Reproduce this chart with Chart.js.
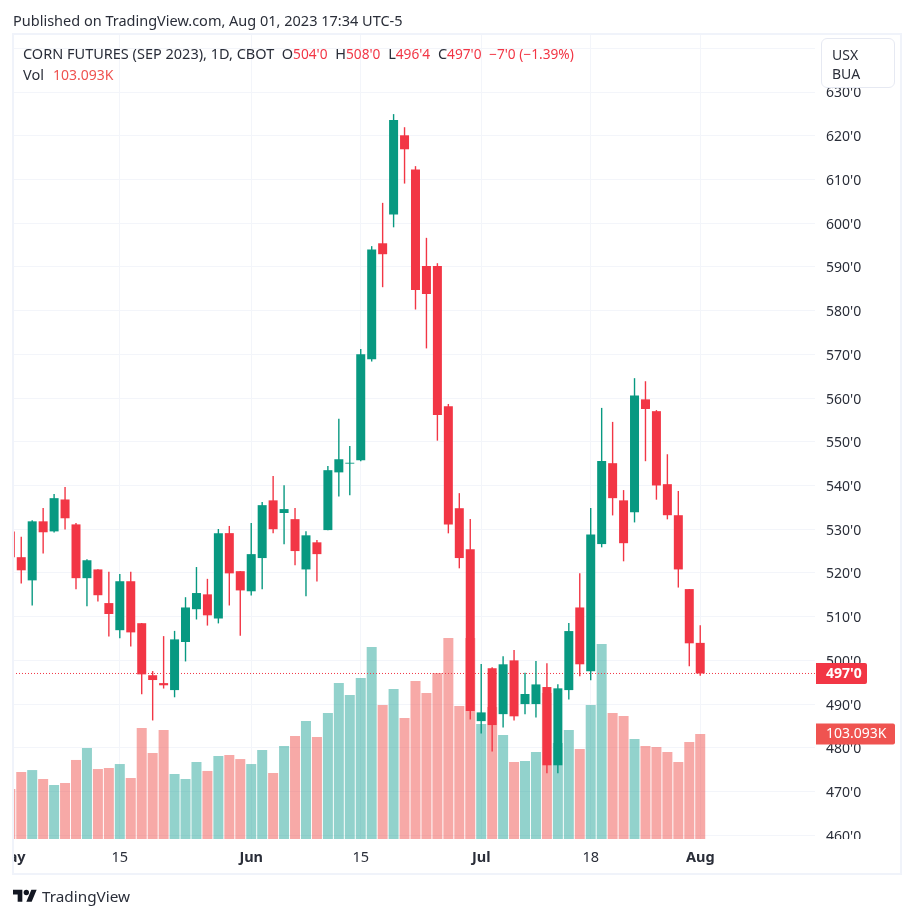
<!DOCTYPE html>
<html>
<head>
<meta charset="utf-8">
<title>CORN FUTURES (SEP 2023)</title>
<script src="https://cdn.jsdelivr.net/npm/chart.js@4"></script>
<style>
    html, body { margin: 0; padding: 0; background: #fff; }
    body { width: 914px; height: 918px; position: relative; overflow: hidden; font-family: "Noto Sans", sans-serif; color: #2a2e39; }
    canvas { position: absolute; left: 0; top: 0; }
    .abs { position: absolute; white-space: pre; }
    .red { color: #f23645; font-size: 13.7px; }
    .volred { color: #ef5350; font-size: 14px; margin-left: 1.5px; }
    .gap { margin-left: 4px; }
</style>
</head>
<body>
<canvas id="chart" width="914" height="918"></canvas>

<div class="abs" style="left:0;top:33px;width:12px;height:842px;background:#fff"></div>
<div class="abs" style="left:816px;top:839px;width:84px;height:34px;background:#fff"></div>
<div class="abs" style="left:12px;top:33px;width:886px;height:838px;border:2px solid #f0f3fa"></div>

<div class="abs" style="left:13px;top:10px;font-size:14.5px;line-height:20px">Published on TradingView.com, Aug 01, 2023 17:34 UTC-5</div>
<div class="abs" style="left:23px;top:43px;font-size:14.5px;line-height:20px">CORN FUTURES (SEP 2023), 1D, CBOT  O<span class="red">504'0</span><span class="gap"> H</span><span class="red">508'0</span><span class="gap"> L</span><span class="red">496'4</span><span class="gap"> C</span><span class="red">497'0</span><span class="gap red"> −7'0 (−1.39%)</span></div>
<div class="abs" style="left:23px;top:64px;font-size:14.5px;line-height:20px">Vol  <span class="volred">103.093K</span></div>

<div class="abs" style="left:821px;top:38px;width:72px;height:48px;background:#fff;border:1px solid #e6e9f2;border-radius:6px"></div>
<div class="abs" style="left:832px;top:45px;font-size:14px;line-height:19px">USX
BUA</div>

<svg class="abs" style="left:13px;top:887px" width="24" height="19" viewBox="0 0 36 28" fill="#131722">
    <path d="M14 22H7V11H0V4h14v18zM28 22h-8l7.5-18h8L28 22z"/>
    <circle cx="20" cy="8" r="4"/>
</svg>
<div class="abs" style="left:42px;top:885px;font-size:15.3px;line-height:22px">TradingView</div>

<script>
// daily OHLC, oldest first (2 May .. 1 Aug 2023)
const dayOpen = [
    529.5, 523.6, 518.3, 531.8, 529.5, 536.8, 531.1, 518.8, 520.8, 513.1, 506.9, 518.1, 508.5, 496.6, 494.8, 493.2,
    504.2, 511.7, 515.1, 509.6, 529.1, 520.4, 515.8, 523.4, 536.6, 533.7, 532.3, 520.8, 527.0, 529.8, 543.0, 545.0,
    545.8, 568.9, 595.4, 602.0, 620.1, 612.3, 590.2, 590.2, 558.1, 534.8, 525.4, 486.1, 498.2, 487.7, 500.0, 490.0,
    490.0, 493.9, 476.0, 493.2, 512.1, 497.5, 526.6, 545.1, 536.6, 533.9, 559.7, 557.0, 540.3, 533.2, 516.3, 504.0
];
const dayHigh = [
    529.5, 528.2, 532.0, 534.8, 538.0, 539.6, 531.4, 523.1, 520.8, 520.2, 519.7, 520.2, 508.5, 497.5, 505.5, 506.7,
    514.4, 521.3, 518.6, 530.0, 530.7, 520.4, 531.4, 536.2, 542.1, 540.0, 534.8, 529.5, 527.5, 544.4, 555.2, 549.0,
    571.2, 594.7, 604.6, 624.9, 621.9, 613.0, 596.6, 590.8, 558.6, 538.2, 532.3, 499.1, 498.4, 500.9, 502.3, 497.1,
    499.8, 499.3, 494.5, 508.5, 519.9, 534.8, 557.7, 554.5, 538.9, 564.5, 563.8, 557.2, 547.1, 538.7, 516.3, 508.0
];
const dayLow = [
    523.6, 517.6, 512.6, 524.5, 529.3, 530.0, 516.3, 512.4, 513.5, 505.5, 505.1, 503.2, 492.3, 486.3, 493.6, 491.6,
    499.8, 509.4, 508.0, 508.5, 512.6, 505.7, 514.9, 516.3, 529.1, 526.6, 521.8, 514.7, 518.1, 529.8, 537.5, 537.8,
    545.6, 568.4, 585.4, 599.1, 609.1, 580.3, 571.4, 550.3, 529.1, 521.1, 486.5, 483.3, 479.2, 484.7, 486.3, 487.7,
    487.0, 474.2, 474.2, 491.1, 496.4, 495.5, 525.9, 533.2, 522.7, 531.6, 545.6, 536.8, 532.3, 516.7, 498.7, 496.5
];
const dayClose = [
    523.6, 520.6, 531.8, 529.3, 537.1, 532.5, 518.8, 522.9, 514.9, 510.6, 518.1, 506.4, 496.8, 495.5, 494.3, 504.8,
    512.1, 515.4, 510.3, 529.1, 519.9, 516.0, 524.3, 535.5, 530.0, 534.6, 525.0, 528.6, 524.3, 543.5, 546.0, 545.2,
    570.0, 594.0, 592.9, 623.6, 616.9, 584.7, 583.8, 556.1, 531.1, 523.4, 488.4, 488.1, 485.2, 499.1, 487.2, 492.3,
    494.5, 476.0, 493.6, 506.7, 499.1, 528.8, 545.6, 537.1, 526.8, 560.6, 557.5, 540.0, 533.2, 520.8, 503.9, 497.0
];
// volume in thousands
const dayVolume = [
    49.1, 65.8, 67.7, 58.9, 53.0, 55.0, 77.6, 89.3, 68.7, 69.7, 73.6, 59.9, 109.0, 84.4, 107.0, 63.8,
    58.9, 75.6, 66.8, 81.5, 82.5, 78.5, 73.6, 87.4, 64.8, 91.3, 101.1, 115.9, 100.1, 123.7, 153.2, 141.4,
    158.1, 188.5, 131.6, 147.3, 118.8, 155.1, 143.3, 163.0, 197.3, 130.6, 197.3, 112.9, 129.6, 102.1, 75.6, 76.6,
    85.4, 143.3, 94.3, 107.0, 88.4, 131.6, 191.5, 123.7, 120.8, 98.2, 91.3, 90.3, 85.4, 75.6, 95.2, 103.093
];
const priceTicks = [460, 470, 480, 490, 500, 510, 520, 530, 540, 550, 560, 570, 580, 590, 600, 610, 620, 630, 640];
const dateTickIdx = [0, 10, 22, 32, 43, 53, 63];
const dateTickLabels = ['May', '15', 'Jun', '15', 'Jul', '18', 'Aug'];
const boldDateLabels = ['May', 'Jun', 'Jul', 'Aug'];
const lastClose = 497;
const lastVolume = 103.093;

const GREEN = '#089981';
const RED = '#f23645';
const VOL_GREEN = 'rgba(38,166,154,0.5)';
const VOL_RED = 'rgba(239,83,80,0.5)';
const GRID = '#f3f5fa';
const FONT = '"Noto Sans", sans-serif';

const isUp = dayClose.map((c, i) => c >= dayOpen[i]);

// price labels on the right axis, same as the tradingview tags
const lastTags = {
    id: 'lastTags',
    afterDraw(chart) {
        const ctx = chart.ctx;
        const left = chart.chartArea.right + 1;
        const drawTag = (y, w, color, text, weight) => {
            ctx.fillStyle = color;
            ctx.beginPath();
            ctx.roundRect(left, y - 10.5, w, 21, [0, 2, 2, 0]);
            ctx.fill();
            ctx.fillStyle = '#fff';
            ctx.font = `${weight} 14px ${FONT}`;
            ctx.textAlign = 'left';
            ctx.textBaseline = 'middle';
            ctx.fillText(text, left + 10, y + 0.5);
        };
        drawTag(chart.scales.y.getPixelForValue(lastClose), 51, RED, "497'0", 'bold');
        drawTag(chart.scales.v.getPixelForValue(lastVolume), 79, '#ef5350', '103.093K', 'normal');
    }
};

const ctx = document.getElementById('chart').getContext('2d');
new Chart(ctx, {
    type: 'bar',
    data: {
        datasets: [
            {
                label: 'Candle body',
                data: dayOpen.map((o, i) => ({ x: i, y: [o, dayClose[i]] })),
                backgroundColor: isUp.map(up => up ? GREEN : RED),
                barThickness: 9,
                inflateAmount: 0,
                grouped: false,
                yAxisID: 'y',
                order: 1
            },
            {
                label: 'Wick',
                data: dayHigh.map((h, i) => ({ x: i, y: [dayLow[i], h] })),
                backgroundColor: isUp.map(up => up ? GREEN : RED),
                barThickness: 1,
                inflateAmount: 0.2,
                grouped: false,
                yAxisID: 'y',
                order: 2
            },
            {
                type: 'line',
                label: 'Last',
                data: [{ x: 0.247, y: lastClose }, { x: 73.48, y: lastClose }],
                borderColor: RED,
                borderWidth: 1,
                borderDash: [1, 2],
                pointRadius: 0,
                yAxisID: 'y',
                order: 3
            },
            {
                label: 'Vol',
                data: dayVolume.map((v, i) => ({ x: i, y: v })),
                backgroundColor: isUp.map(up => up ? VOL_GREEN : VOL_RED),
                barThickness: 10,
                inflateAmount: 0,
                grouped: false,
                yAxisID: 'v',
                order: 4
            }
        ]
    },
    options: {
        responsive: false,
        animation: false,
        layout: { padding: { left: 13, top: 35, right: 13, bottom: 45 } },
        plugins: { legend: { display: false }, tooltip: { enabled: false } },
        scales: {
            x: {
                type: 'linear',
                offset: false,
                min: 0.247,
                max: 73.48,
                afterBuildTicks: scale => { scale.ticks = dateTickIdx.map(value => ({ value })); },
                afterFit: scale => {
                    scale.height = 34;
                    // the clipped May label must not push the plot area in
                    scale.paddingLeft = 0;
                    scale.paddingRight = 0;
                },
                grid: { color: GRID, drawTicks: false, offset: false },
                border: { display: false },
                ticks: {
                    autoSkip: false,
                    maxRotation: 0,
                    padding: 10,
                    color: '#2a2e39',
                    font: c => ({
                        family: FONT,
                        size: 14.5,
                        weight: boldDateLabels.includes(dateTickLabels[c.index]) ? 'bold' : 'normal'
                    }),
                    callback: (value, i) => dateTickLabels[i]
                }
            },
            y: {
                position: 'right',
                min: 459.14,
                max: 643.04,
                afterBuildTicks: scale => { scale.ticks = priceTicks.map(value => ({ value })); },
                afterFit: scale => {
                    scale.width = 86;
                    scale.paddingTop = 0;
                    scale.paddingBottom = 0;
                },
                grid: { color: GRID, drawTicks: false },
                border: { display: false },
                ticks: {
                    padding: 11,
                    labelOffset: 1.5,
                    color: '#2a2e39',
                    font: { family: FONT, size: 14 },
                    callback: value => `${value}'0`
                }
            },
            v: {
                display: false,
                min: 0,
                max: 789.4
            }
        }
    },
    plugins: [lastTags]
});
</script>
</body>
</html>
